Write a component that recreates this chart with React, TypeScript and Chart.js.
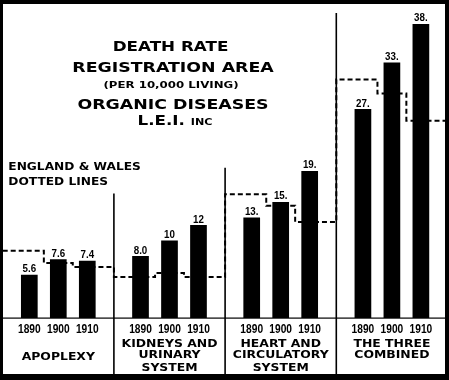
import React, { useEffect, useRef } from "react";
import { Chart, registerables } from "chart.js";

Chart.register(...registerables);

// ---- data ----
const groupNames: string[][] = [
  ["APOPLEXY"],
  ["KIDNEYS AND", "URINARY", "SYSTEM"],
  ["HEART AND", "CIRCULATORY", "SYSTEM"],
  ["THE THREE", "COMBINED"],
];
const years = ["1890", "1900", "1910"];
// Registration Area (bars)
const rate1890 = [5.6, 8.0, 13, 27];
const rate1900 = [7.6, 10, 15, 33];
const rate1910 = [7.4, 12, 19, 38];
const label1890 = ["5.6", "8.0", "13.", "27."];
const label1900 = ["7.6", "10", "15.", "33."];
const label1910 = ["7.4", "12", "19.", "38."];
// England & Wales (dotted step lines)
const ew1890 = [8.7, 5.3, 16.0, 30.8];
const ew1900 = [7.1, 5.8, 14.5, 29.0];
const ew1910 = [6.6, 5.3, 12.4, 25.5];
const dividerTops = [16.1, 19.4, 39.4];
const titleLines = ["DEATH RATE", "REGISTRATION AREA", "(PER 10,000 LIVING)", "ORGANIC DISEASES"];
const titleCompany = ["L.E.I.", "Inc"];
const legendLines = ["ENGLAND & WALES", "DOTTED LINES"];

const rates = [rate1890, rate1900, rate1910];
const valueLabels = [label1890, label1900, label1910];

const STEP = 0.13;
const ewPoints: { x: number; y: number }[] = [];
groupNames.forEach((_, g) => {
  ewPoints.push({ x: g - 0.5, y: ew1890[g] });
  ewPoints.push({ x: g - STEP, y: ew1900[g] });
  ewPoints.push({ x: g + STEP, y: ew1910[g] });
  ewPoints.push({ x: g + 0.5, y: ew1910[g] });
});

const WIDE = '"DejaVu Sans", "Verdana", sans-serif';
const NARROW = '"Liberation Sans", Arial, sans-serif';

function wideText(
  ctx: CanvasRenderingContext2D,
  text: string,
  x: number,
  baseline: number,
  size: number,
  sx: number,
  align: "center" | "left" = "center",
  family = WIDE,
  weight = "bold",
  smallCaps = false
) {
  ctx.save();
  ctx.font = `${weight} ${size}px ${family}`;
  if (smallCaps) (ctx as any).fontVariantCaps = "all-small-caps";
  ctx.textAlign = "left";
  ctx.textBaseline = "alphabetic";
  const w = ctx.measureText(text).width * sx;
  const x0 = align === "center" ? x - w / 2 : x;
  ctx.translate(x0, baseline);
  ctx.scale(sx, 1);
  ctx.fillStyle = "#000";
  ctx.fillText(text, 0, 0);
  ctx.restore();
  return w;
}

function measureWide(ctx: CanvasRenderingContext2D, text: string, size: number, sx: number, smallCaps = false) {
  ctx.save();
  ctx.font = `bold ${size}px ${WIDE}`;
  if (smallCaps) (ctx as any).fontVariantCaps = "all-small-caps";
  const w = ctx.measureText(text).width * sx;
  ctx.restore();
  return w;
}

const decor = {
  id: "decor",
  beforeDraw(chart: any) {
    const { ctx, width, height } = chart;
    ctx.save();
    ctx.fillStyle = "#fff";
    ctx.fillRect(0, 0, width, height);
    ctx.restore();
  },
  afterDatasetsDraw(chart: any) {
    const { ctx, width, height } = chart;
    const x = chart.scales.x;
    const y = chart.scales.y;
    const base = y.getPixelForValue(0);
    ctx.save();
    ctx.fillStyle = "#000";
    // baseline
    ctx.fillRect(0, Math.round(base) - 0.5, width, 1.2);
    // dividers
    ctx.strokeStyle = "#000";
    ctx.lineWidth = 1.6;
    for (let g = 0; g < 3; g++) {
      const xd = x.getPixelForValue(g + 0.5);
      ctx.beginPath();
      ctx.moveTo(xd, y.getPixelForValue(dividerTops[g]));
      ctx.lineTo(xd, height);
      ctx.stroke();
    }
    ctx.restore();

    // value labels and years
    for (let d = 0; d < 3; d++) {
      const meta = chart.getDatasetMeta(d);
      meta.data.forEach((bar: any, g: number) => {
        wideText(ctx, valueLabels[d][g], bar.x, bar.y - 2.5, 11.5, 0.85, "center", NARROW, "bold");
        wideText(ctx, years[d], bar.x, base + 15.3, 12, 0.85, "center", NARROW, "bold");
      });
    }

    // group names
    groupNames.forEach((lines, g) => {
      const cx = x.getPixelForValue(g);
      const baselines = lines.length === 1 ? [360] : [346.5, 358, 370.5];
      lines.forEach((t, i) => wideText(ctx, t, cx, baselines[i], 10, 1.24));
    });

    // title
    const tSizes = [13.5, 14, 9.5, 14];
    const tBase = [51, 71.7, 88, 109];
    const tCx = [170.5, 173, 171, 173];
    titleLines.forEach((t, i) => wideText(ctx, t, tCx[i], tBase[i], tSizes[i], 1.24));
    // company line with small caps "Inc"
    const w1 = measureWide(ctx, titleCompany[0] + " ", 13.5, 1.24);
    const w2 = measureWide(ctx, titleCompany[1], 13.5, 1.24, true);
    const start = 175 - (w1 + w2) / 2;
    wideText(ctx, titleCompany[0], start, 125, 13.5, 1.24, "left");
    wideText(ctx, titleCompany[1], start + w1, 125, 13.5, 1.24, "left", WIDE, "bold", true);

    // legend text
    wideText(ctx, legendLines[0], 8.3, 170, 10, 1.22, "left");
    wideText(ctx, legendLines[1], 8.3, 185, 10, 1.22, "left");

    // frame
    ctx.save();
    ctx.fillStyle = "#000";
    ctx.fillRect(0, 0, width, 4);
    ctx.fillRect(0, 0, 3, height);
    ctx.fillRect(445, 0, width - 445, height);
    ctx.fillRect(0, 374, width, height - 374);
    ctx.restore();
  },
};

export default function App() {
  const ref = useRef<HTMLCanvasElement>(null);
  useEffect(() => {
    const canvas = ref.current!;
    const barDs = rates.map((r, i) => ({
      type: "bar" as const,
      label: years[i],
      data: r.map((v, g) => ({ x: g, y: v })),
      backgroundColor: "#000",
      borderWidth: 0,
      categoryPercentage: 0.782,
      barPercentage: 0.576,
      order: 1,
    }));
    const chart = new Chart(canvas, {
      type: "bar",
      data: {
        datasets: [
          ...barDs,
          {
            type: "line" as const,
            label: "England & Wales",
            data: ewPoints as any,
            borderColor: "#000",
            borderWidth: 2,
            borderDash: [5, 3],
            stepped: "before",
            pointRadius: 0,
            fill: false,
            order: 5,
          } as any,
        ],
      },
      options: {
        animation: false,
        responsive: false,
        devicePixelRatio: 1,
        events: [],
        layout: { padding: { left: 2.7, right: 1.5, top: 8.4, bottom: 62 } },
        plugins: {
          legend: { display: false },
          tooltip: { enabled: false },
          title: { display: false },
        },
        scales: {
          x: {
            type: "linear",
            display: false,
            offset: false,
            bounds: "data",
            min: -0.5,
            max: 3.5,
            ticks: { stepSize: 1, includeBounds: false },
            grid: { offset: false, display: false },
          },
          y: { type: "linear", display: false, min: 0, max: 40 },
        },
      },
      plugins: [decor],
    });
    return () => chart.destroy();
  }, []);
  return (
    <div style={{ position: "absolute", left: 0, top: 0, width: 449, height: 380 }}>
      <canvas ref={ref} width={449} height={380} style={{ display: "block", width: 449, height: 380 }} />
    </div>
  );
}
